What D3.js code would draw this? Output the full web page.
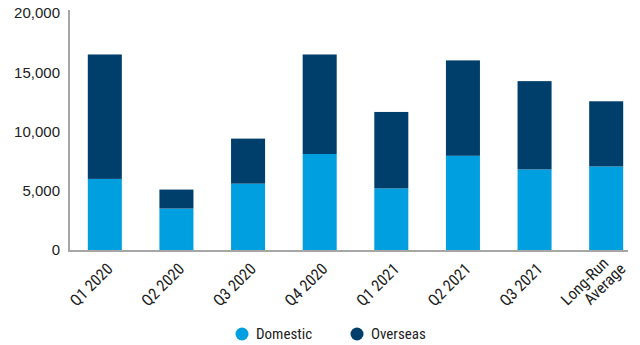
<!DOCTYPE html>
<html>
<head>
<meta charset="utf-8">
<script src="https://cdn.jsdelivr.net/npm/d3@7"></script>
<style>
  body { margin: 0; background: #fff; }
  .ylab { font-family: "Liberation Sans", Arial, sans-serif; font-size: 15px; fill: #222; }
  .xlab { font-family: "Liberation Sans Narrow", "Roboto Condensed", "Liberation Sans", sans-serif; font-size: 16px; fill: #222; }
  .leg { font-family: "Liberation Sans Narrow", "Roboto Condensed", "Liberation Sans", sans-serif; font-size: 15px; fill: #222; }
</style>
</head>
<body>
<div class="svg-content"></div>
<script>
const categories = ["Q1 2020", "Q2 2020", "Q3 2020", "Q4 2020", "Q1 2021", "Q2 2021", "Q3 2021", "Long-Run Average"];
const domestic = [6000, 3500, 5600, 8100, 5200, 7950, 6800, 7050];
const overseas = [10500, 1600, 3800, 8400, 6450, 8050, 7450, 5500];
const yTicks = [0, 5000, 10000, 15000, 20000];
const seriesNames = ["Domestic", "Overseas"];
const colors = ["#009fe0", "#003e6b"];

const svgWidth = 640;
const svgHeight = 345;

const svg = d3.select(".svg-content")
              .append("svg")
              .attr("width", svgWidth)
              .attr("height", svgHeight);

const xScale = d3.scaleBand()
                 .domain(categories)
                 .range([69, 642])
                 .paddingInner(0.525)
                 .paddingOuter(0.2625);

const yScale = d3.scaleLinear()
                 .domain([0, 20000])
                 .range([250, 13]);

const rows = categories.map((c, i) => ({ cat: c, Domestic: domestic[i], Overseas: overseas[i] }));
const stacked = d3.stack().keys(seriesNames)(rows);

svg.selectAll("g.series")
   .data(stacked)
   .enter()
   .append("g")
   .attr("fill", (d, i) => colors[i])
   .selectAll("rect")
   .data(d => d)
   .enter()
   .append("rect")
   .attr("x", d => xScale(d.data.cat))
   .attr("y", d => yScale(d[1]))
   .attr("width", xScale.bandwidth())
   .attr("height", d => yScale(d[0]) - yScale(d[1]));

// y axis
const yAxis = svg.append("g")
                 .attr("transform", "translate(69,0)")
                 .call(d3.axisLeft(yScale).tickValues(yTicks).tickSize(0).tickPadding(9).tickFormat(d3.format(",")));
yAxis.select(".domain").remove();
yAxis.selectAll("text").attr("class", "ylab").attr("font-size", null).attr("font-family", null);

svg.append("line")
   .attr("x1", 69).attr("x2", 69)
   .attr("y1", 10).attr("y2", 251)
   .attr("stroke", "#a6a6a6").attr("stroke-width", 2);

svg.append("line")
   .attr("x1", 68).attr("x2", 628)
   .attr("y1", 251).attr("y2", 251)
   .attr("stroke", "#a6a6a6").attr("stroke-width", 2);

// x labels
categories.forEach(c => {
  const cx = xScale(c) + xScale.bandwidth() / 2 + 5;
  const t = svg.append("text")
               .attr("class", "xlab")
               .attr("text-anchor", "end")
               .attr("transform", "translate(" + cx + ",266) rotate(-45)");
  const parts = c === "Long-Run Average" ? ["Long-Run", "Average"] : [c];
  parts.forEach((p, j) => {
    t.append("tspan")
     .attr("x", j === 0 ? 0 : 8)
     .attr("dy", j === 0 ? (parts.length > 1 ? "-0.15em" : "0.35em") : "1.0em")
     .text(p);
  });
});

// legend
const legendX = [242, 357];
seriesNames.forEach((s, i) => {
  svg.append("circle")
     .attr("cx", legendX[i]).attr("cy", 334).attr("r", 6.5)
     .attr("fill", colors[i]);
  svg.append("text")
     .attr("class", "leg")
     .attr("x", legendX[i] + 14).attr("y", 339)
     .text(s);
});
</script>
</body>
</html>
